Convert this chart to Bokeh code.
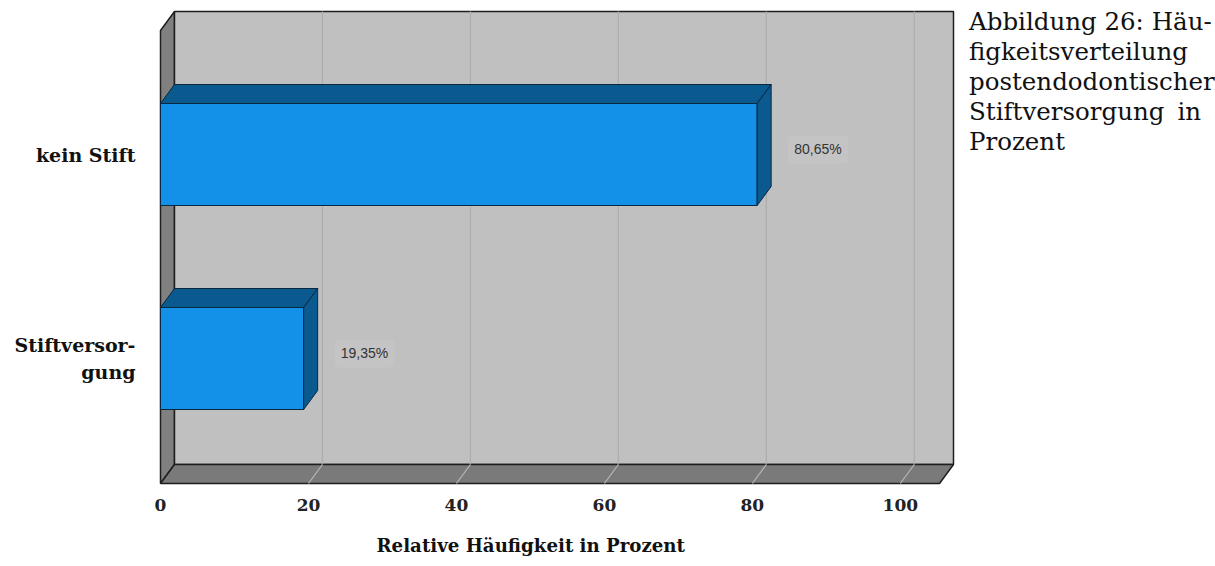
from bokeh.plotting import figure
from bokeh.models import Range1d, FixedTicker, Title, Div
from bokeh.layouts import row
from bokeh.core.properties import value
from bokeh.embed import file_html
from bokeh.resources import INLINE

# ---- data -------------------------------------------------------------
categories = ["Stiftversorgung", "kein Stift"]
category_labels = ["Stiftversor-\ngung", "kein Stift"]
percent = [19.35, 80.65]
percent_labels = ["19,35%", "80,65%"]
x_ticks = [0, 20, 40, 60, 80, 100]
x_title = "Relative Häufigkeit in Prozent"
caption_lines = [
    ("Abbildung 26: Häu-", True),
    ("figkeitsverteilung", False),
    ("postendodontischer", False),
    ("Stiftversorgung in", True),
    ("Prozent", False),
]

# ---- geometry of the pseudo-3D box (data units) -----------------------
PX_PER_X = 7.4          # pixels per percent
PX_PER_Y = 204.0        # pixels per category step
DX = 14 / PX_PER_X      # depth offset, x
DY = 19 / PX_PER_Y      # depth offset, y
X_FRONT_END = 105.3     # right end of the front plane
Y_FLOOR = -125 / PX_PER_Y
Y_CEIL = 328 / PX_PER_Y
BAR_HALF = 0.25
PAD_X = 2 / PX_PER_X
PAD_Y = 2 / PX_PER_Y

FIG_W = 960
CAPTION_W = 1215 - FIG_W

y_pos = list(range(len(categories)))

frame_w = round((X_FRONT_END + DX + 2 * PAD_X) * PX_PER_X)
frame_h = round((Y_CEIL + DY - Y_FLOOR + 2 * PAD_Y) * PX_PER_Y)

p = figure(
    frame_width=frame_w, frame_height=frame_h,
    x_range=Range1d(-PAD_X, X_FRONT_END + DX + PAD_X),
    y_range=Range1d(Y_FLOOR - PAD_Y, Y_CEIL + DY + PAD_Y),
    min_border_left=158, min_border_right=FIG_W - 158 - frame_w,
    min_border_top=9, min_border_bottom=566 - 9 - frame_h,
    output_backend="svg", toolbar_location=None,
    background_fill_color="white", border_fill_color="white",
)
p.outline_line_color = None
p.grid.visible = False

EDGE = "#1e1e1e"

# left wall
p.patch([0, 0, DX, DX], [Y_FLOOR, Y_CEIL, Y_CEIL + DY, Y_FLOOR + DY],
        fill_color="#808080", line_color=EDGE, line_width=1.5)
# back wall
p.quad(left=DX, right=X_FRONT_END + DX, bottom=Y_FLOOR + DY, top=Y_CEIL + DY,
       fill_color="#c0c0c0", line_color=EDGE, line_width=1.5)
# floor
p.patch([0, X_FRONT_END, X_FRONT_END + DX, DX],
        [Y_FLOOR, Y_FLOOR, Y_FLOOR + DY, Y_FLOOR + DY],
        fill_color="#7a7a7a", line_color=EDGE, line_width=1.5)

# grid lines on the back wall and across the floor
grid_x = x_ticks[1:]
p.segment(x0=[t + DX for t in grid_x], y0=[Y_FLOOR + DY] * len(grid_x),
          x1=[t + DX for t in grid_x], y1=[Y_CEIL + DY] * len(grid_x),
          line_color="#adadad", line_width=1.2)
p.segment(x0=grid_x, y0=[Y_FLOOR] * len(grid_x),
          x1=[t + DX for t in grid_x], y1=[Y_FLOOR + DY] * len(grid_x),
          line_color="#b8b8b8", line_width=1.2)

# bars: front face, top face and side face
BAR_EDGE = "#0a2740"
p.quad(left=[0] * len(percent), right=percent,
       bottom=[c - BAR_HALF for c in y_pos], top=[c + BAR_HALF for c in y_pos],
       fill_color="#1390e8", line_color=BAR_EDGE, line_width=1)
top_xs = [[0, v, v + DX, DX] for v in percent]
top_ys = [[c + BAR_HALF, c + BAR_HALF, c + BAR_HALF + DY, c + BAR_HALF + DY] for c in y_pos]
p.patches(top_xs, top_ys, fill_color="#0b5a8f", line_color=BAR_EDGE, line_width=1)
side_xs = [[v, v + DX, v + DX, v] for v in percent]
side_ys = [[c - BAR_HALF, c - BAR_HALF + DY, c + BAR_HALF + DY, c + BAR_HALF] for c in y_pos]
p.patches(side_xs, side_ys, fill_color="#0b5a8f", line_color=BAR_EDGE, line_width=1)

# value labels next to each bar
p.text(x=[v + 4.2 for v in percent], y=[c + 0.025 for c in y_pos], text=percent_labels,
       text_font=value("Liberation Sans"), text_font_size="14px", text_color="#333333",
       text_align="left", text_baseline="middle",
       background_fill_color="#c4c4c4", border_radius=4, padding=6)

# axes
p.xaxis.ticker = FixedTicker(ticks=x_ticks)
p.xaxis.axis_line_color = None
p.xaxis.major_tick_line_color = None
p.xaxis.minor_tick_line_color = None
p.xaxis.major_label_standoff = 7
p.xaxis.major_label_text_font = "DejaVu Serif"
p.xaxis.major_label_text_font_style = "bold"
p.xaxis.major_label_text_font_size = "17px"
p.xaxis.major_label_text_color = "#222222"

p.yaxis.ticker = FixedTicker(ticks=y_pos)
p.yaxis.major_label_overrides = {c: lab for c, lab in zip(y_pos, category_labels)}
p.yaxis.axis_line_color = None
p.yaxis.major_tick_line_color = None
p.yaxis.minor_tick_line_color = None
p.yaxis.major_label_standoff = 17
p.yaxis.major_label_text_font = "DejaVu Serif"
p.yaxis.major_label_text_font_style = "bold"
p.yaxis.major_label_text_font_size = "19px"
p.yaxis.major_label_text_color = "#111111"

# axis title, placed under the 0-100 scale
p.add_layout(Title(text=x_title, align="left", offset=218, standoff=38,
                   text_font="DejaVu Serif", text_font_style="bold",
                   text_font_size="18.2px", text_color="#111111"), "below")

# figure caption, a justified text column at the right
line_html = []
for text, justify in caption_lines:
    align = "text-align:justify;text-align-last:justify;" if justify else "text-align:left;"
    line_html.append(f'<div style="{align}white-space:nowrap;">{text}</div>')
caption = Div(
    text=('<div style="font-family:\'DejaVu Serif\';font-size:24.5px;line-height:30.1px;'
          'color:#111111;width:241px;padding:7px 0 0 9px;margin:0;">'
          + "".join(line_html) + "</div>"),
    width=CAPTION_W, height=566, styles={"margin": "0", "padding": "0"},
)

layout = row(p, caption, spacing=0)
open("out.html", "w").write(file_html(layout, INLINE))
